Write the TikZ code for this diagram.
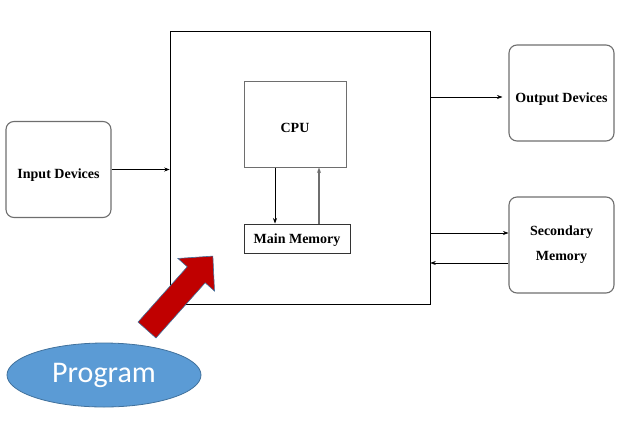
\documentclass[tikz,border=0pt]{standalone}
\usepackage{fontspec}
\setmainfont{Liberation Serif}
\newfontfamily\progfont{Carlito}
\usepackage{tikz}
\usetikzlibrary{arrows.meta,calc,positioning,shapes.geometric}
\definecolor{boxgray}{RGB}{110,110,110}
\definecolor{progblue}{RGB}{91,155,213}
\definecolor{progedge}{RGB}{65,113,156}
\definecolor{arrowred}{RGB}{192,0,0}
\tikzset{
  devbox/.style={draw=boxgray,line width=1.1pt,rounded corners=8pt,minimum width=105pt,minimum height=96pt,align=center,font=\fontsize{14}{25}\selectfont\bfseries},
  unitbox/.style={draw=boxgray,line width=1pt,align=center,font=\fontsize{14}{16}\selectfont\bfseries},
  lowtext/.style={text height=#1,text depth=0pt},
  link/.style={->,line width=0.6pt}
}

\begin{document}
\begin{tikzpicture}[x=1pt,y=-1pt,>={Stealth[length=5.5pt,width=4pt]}]
\useasboundingbox (0,0) rectangle (631,421);
% ---- computer ----
\node[draw=black,line width=0.6pt,minimum width=260pt,minimum height=273pt] (sys) at (300,167.5) {};
\node[unitbox,lowtext=17pt,minimum width=102pt,minimum height=86pt] (cpu) at (295,124) {CPU};
\node[unitbox,draw=black!80,lowtext=9pt,minimum width=106pt,minimum height=29pt] (mem) at (297,238.5) {Main Memory};
\draw[link] ($(cpu.south)+(-20,0)$) -- ($(mem.north)+(-22,0)$);
\draw[link,draw=boxgray,line width=1.1pt] ($(mem.north)+(22,0)$) -- ($(cpu.south)+(24,0)$);
% ---- devices ----
\node[devbox,lowtext=17pt] (inp) at (58.5,169.5) {Input Devices};
\node[devbox,lowtext=18pt] (out) at (561.5,93) {Output Devices};
\node[devbox] (sec) at (561.5,245) {Secondary\\Memory};
\coordinate (outin) at ($(out.west)+(0,4)$);
\coordinate (secin) at ($(sec.west)+(0,-12)$);
\coordinate (secout) at ($(sec.west)+(0,18)$);
\draw[link] (inp.east) -- (inp.east -| sys.west);
\draw[link,shorten >=6pt] (outin -| sys.east) -- (outin);
\draw[link] (secin -| sys.east) -- (secin);
\draw[link] (secout) -- (secout -| sys.east);
% ---- program ----
\node[ellipse,draw=progedge,fill=progblue,line width=0.8pt,minimum width=194pt,minimum height=64pt,text=white,font=\progfont\fontsize{30}{30}\selectfont] (prog) at (104,375) {Program};
\begin{scope}[shift={(147,330)},rotate=48.3]
  \fill[arrowred,draw=progedge,line width=0.6pt] (0,-12) -- (74,-12) -- (74,-24.5) -- (99,0) -- (74,24.5) -- (74,12) -- (0,12) -- cycle;
\end{scope}
\end{tikzpicture}
\end{document}
